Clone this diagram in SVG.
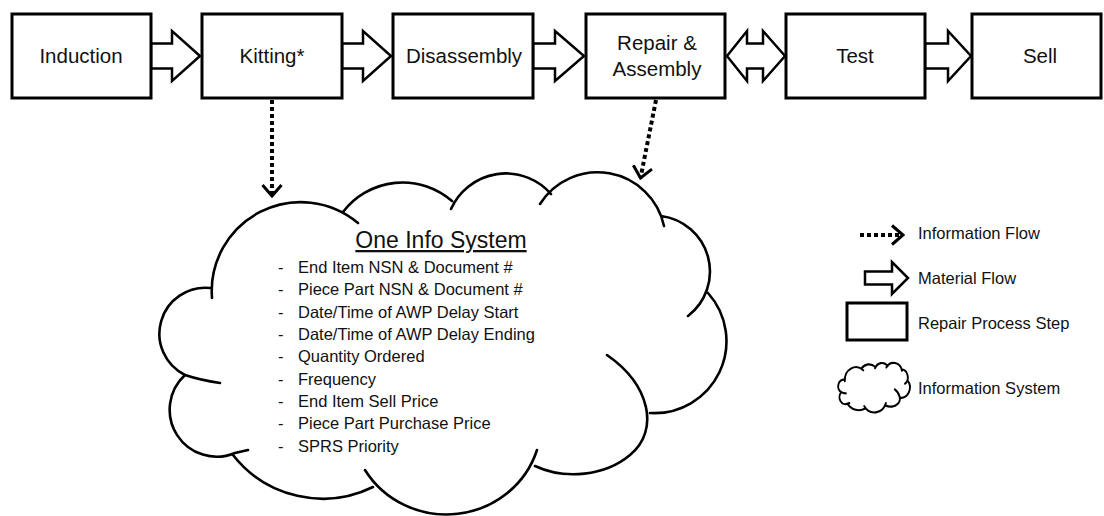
<svg xmlns="http://www.w3.org/2000/svg" width="1104" height="516" viewBox="0 0 1104 516">
<style>
  .box{fill:#fff;stroke:#000;stroke-width:3}
  .blk{fill:#fff;stroke:#000;stroke-width:2.5;stroke-linejoin:miter}
  .dot{fill:none;stroke:#000;stroke-width:4;stroke-dasharray:4 3}
  .cloud{fill:none;stroke:#000;stroke-width:2.6;stroke-linecap:round}
  .lbl{font-family:"Liberation Sans",Arial,sans-serif;font-size:20.5px;fill:#111;text-anchor:middle}
  .item{font-family:"Liberation Sans",Arial,sans-serif;font-size:16.5px;fill:#111}
  .leg{font-family:"Liberation Sans",Arial,sans-serif;font-size:16.5px;fill:#111}
  .title{font-family:"Liberation Sans",Arial,sans-serif;font-size:23px;fill:#111;text-anchor:middle;text-decoration:underline}
</style>
<defs>
  <marker id="chev" markerUnits="userSpaceOnUse" viewBox="0 0 14 22" refX="12" refY="11" markerWidth="14" markerHeight="22" orient="auto">
    <path d="M1,1.5 L12,11 L1,20.5" fill="none" stroke="#000" stroke-width="3"/>
  </marker>
  <path id="cloudpath" d="M212,298 A89,89 0 0 1 358,223 M343,212 A75,75 0 0 1 452,201 M451,209 A60,60 0 0 1 551,194 M540,204 A68,68 0 0 1 664,226 M661,216 A56,56 0 0 1 688,316 M708,293 A72,72 0 0 1 650,413 M607,355 C650,385 660,430 630,455 C605,476 565,480 535,466 M537,450 A95,92 0 0 1 365,470 M373,487 A114,114 0 0 1 233,455 M248,450 L235,453 A47,47 0 0 1 185,375 M220,383 Q200,380 185,375 A46,46 0 0 1 210,288"/>
</defs>
<rect width="1104" height="516" fill="#fff"/>

<g id="connectors">
  <polygon class="blk" points="151,43.5 172,43.5 172,31 200,56 172,81 172,68.5 151,68.5"/>
  <polygon class="blk" points="342,43.5 363,43.5 363,31 391,56 363,81 363,68.5 342,68.5"/>
  <polygon class="blk" points="533,43.5 555,43.5 555,31 584,56 555,81 555,68.5 533,68.5"/>
  <polygon class="blk" points="727,56 747,31 747,43.5 763,43.5 763,31 785,56 763,81 763,68.5 747,68.5 747,81"/>
  <polygon class="blk" points="925,43.5 948,43.5 948,31 971,56 948,81 948,68.5 925,68.5"/>
  <line class="dot" x1="272" y1="100" x2="272" y2="196" marker-end="url(#chev)"/>
  <line class="dot" x1="656" y1="100" x2="640.5" y2="178" marker-end="url(#chev)"/>
</g>

<g id="induction"><rect class="box" x="12" y="14" width="139" height="84"/><text class="lbl" x="81" y="63">Induction</text></g>
<g id="kitting"><rect class="box" x="202" y="14" width="140" height="84"/><text class="lbl" x="272" y="63">Kitting*</text></g>
<g id="disassembly"><rect class="box" x="393" y="14" width="140" height="84"/><text class="lbl" x="464" y="63">Disassembly</text></g>
<g id="repair-assembly"><rect class="box" x="586" y="14" width="139" height="84"/><text class="lbl" x="657" y="50">Repair &amp;</text><text class="lbl" x="657" y="76">Assembly</text></g>
<g id="test"><rect class="box" x="786" y="14" width="139" height="84"/><text class="lbl" x="855" y="63">Test</text></g>
<g id="sell"><rect class="box" x="972" y="14" width="129" height="84"/><text class="lbl" x="1040" y="63">Sell</text></g>

<g id="info-system">
  <use href="#cloudpath" class="cloud"/>
  <text class="title" x="441" y="248">One Info System</text>
  <g class="item">
    <text x="278" y="273">-</text><text x="298" y="273">End Item NSN &amp; Document #</text>
    <text x="278" y="295">-</text><text x="298" y="295">Piece Part NSN &amp; Document #</text>
    <text x="278" y="318">-</text><text x="298" y="318">Date/Time of AWP Delay Start</text>
    <text x="278" y="340">-</text><text x="298" y="340">Date/Time of AWP Delay Ending</text>
    <text x="278" y="362">-</text><text x="298" y="362">Quantity Ordered</text>
    <text x="278" y="385">-</text><text x="298" y="385">Frequency</text>
    <text x="278" y="407">-</text><text x="298" y="407">End Item Sell Price</text>
    <text x="278" y="429">-</text><text x="298" y="429">Piece Part Purchase Price</text>
    <text x="278" y="452">-</text><text x="298" y="452">SPRS Priority</text>
  </g>
</g>

<g id="legend">
  <line class="dot" x1="860" y1="235" x2="903" y2="235" marker-end="url(#chev)"/>
  <text class="leg" x="918" y="239">Information Flow</text>
  <polygon class="blk" points="865,271.5 892,271.5 892,262 908,278 892,294 892,284.5 865,284.5"/>
  <text class="leg" x="918" y="284">Material Flow</text>
  <rect class="box" x="847" y="303" width="60" height="37" stroke-width="2.5"/>
  <text class="leg" x="918" y="329">Repair Process Step</text>
  <g transform="translate(818,337.9) scale(0.1265,0.145)">
    <use href="#cloudpath" fill="none" stroke="#000" stroke-width="15" stroke-linecap="round"/>
  </g>
  <text class="leg" x="918" y="394">Information System</text>
</g>
</svg>
